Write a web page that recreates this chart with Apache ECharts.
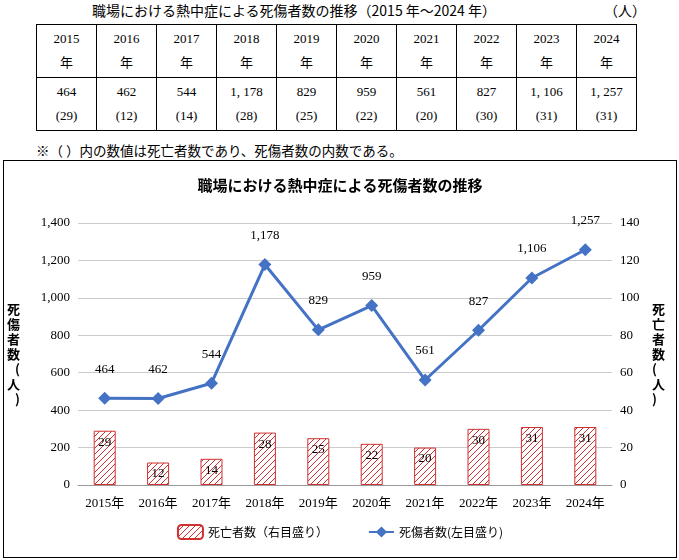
<!DOCTYPE html>
<html><head><meta charset="utf-8">
<script src="https://cdn.jsdelivr.net/npm/echarts@6/dist/echarts.min.js"></script>
<style>
body{margin:0;width:679px;height:560px;background:#fff;font-family:"Liberation Serif","Noto Sans CJK JP",serif;position:relative;overflow:hidden}
#t{position:absolute;left:0;top:4px;width:679px;font-size:14px}
#ttl{position:absolute;left:92px;top:0;font-family:"Noto Sans CJK JP";font-size:14px}
#unit{position:absolute;left:604px;top:0;font-family:"Noto Sans CJK JP";font-size:14px}
table{position:absolute;left:36px;top:24px;border-collapse:collapse;font-family:"Liberation Serif","Noto Sans CJK JP",serif;font-size:13px}
td{border:1px solid #000;width:59px;text-align:center;line-height:24px;padding:0}
#note{position:absolute;left:36px;top:140px;font-family:"Noto Sans CJK JP";font-size:13.5px}
#c{position:absolute;left:3px;top:160px;width:672px;height:396px;border:1px solid #000}
</style></head><body>
<div id="ttl">職場における熱中症による死傷者数の推移（2015 年～2024 年）</div>
<div id="unit">（人）</div>
<table id="tb"></table>
<div id="note">※（ ）内の数値は死亡者数であり、死傷者数の内数である。</div>
<div id="c"></div>
<script>
const years=['2015','2016','2017','2018','2019','2020','2021','2022','2023','2024'];
const casualties=[464,462,544,1178,829,959,561,827,1106,1257];
const deaths=[29,12,14,28,25,22,20,30,31,31];
const leftTicks=[0,200,400,600,800,1000,1200,1400];

const fmt=v=>v>=1000?Math.floor(v/1000)+', '+String(v%1000).padStart(3,'0'):String(v);
let h='<tr>'+years.map(y=>'<td style="height:52px">'+y+'<br>年</td>').join('')+'</tr>';
h+='<tr>'+casualties.map((v,i)=>'<td style="height:52px">'+fmt(v)+'<br>('+deaths[i]+')</td>').join('')+'</tr>';
document.getElementById('tb').innerHTML=h;

const cv=document.createElement('canvas');cv.width=6;cv.height=6;
const cx=cv.getContext('2d');cx.fillStyle='#fff';cx.fillRect(0,0,6,6);
cx.strokeStyle='#d03030';cx.lineWidth=1;
cx.beginPath();cx.moveTo(0,6);cx.lineTo(6,0);cx.moveTo(-1,1);cx.lineTo(1,-1);cx.moveTo(5,7);cx.lineTo(7,5);cx.stroke();

const ch=echarts.init(document.getElementById('c'));
const tf={fontFamily:'Liberation Serif, Noto Sans CJK JP',fontSize:13,color:'#000'};
ch.setOption({
 animation:false,
 title:{text:'職場における熱中症による死傷者数の推移',left:'center',top:12,textStyle:{fontFamily:'Noto Sans CJK JP',fontSize:15,fontWeight:'bold',color:'#000'}},
 grid:{left:69,right:64,top:62,bottom:72},
 legend:{bottom:12,itemGap:40,textStyle:{fontFamily:'Noto Sans CJK JP',fontSize:12,color:'#000'},
  data:[{name:'死亡者数（右目盛り）'},{name:'死傷者数(左目盛り)'}]},
 xAxis:{type:'category',data:years.map(y=>y+'年'),axisTick:{show:false},axisLine:{lineStyle:{color:'#999'}},axisLabel:{...tf,fontFamily:'Liberation Serif, Noto Sans CJK JP',margin:12}},
 yAxis:[
  {type:'value',min:0,max:1400,interval:200,axisLabel:{...tf,formatter:v=>v.toLocaleString('en-US')},splitLine:{lineStyle:{color:'#ccc'}},
   name:'死\n傷\n者\n数\n(\n人\n)',nameLocation:'middle',nameGap:58,nameRotate:0,nameTextStyle:{fontFamily:'Noto Sans CJK JP',fontSize:13,fontWeight:'bold',color:'#000',lineHeight:15}},
  {type:'value',min:0,max:140,interval:20,axisLabel:tf,splitLine:{show:false},
   name:'死\n亡\n者\n数\n(\n人\n)',nameLocation:'middle',nameGap:40,nameRotate:0,nameTextStyle:{fontFamily:'Noto Sans CJK JP',fontSize:13,fontWeight:'bold',color:'#000',lineHeight:15}}
 ],
 series:[
  {name:'死亡者数（右目盛り）',type:'bar',yAxisIndex:1,data:deaths,barWidth:22,
   itemStyle:{color:{image:cv,repeat:'repeat'},borderColor:'#d03030',borderWidth:1},
   label:{show:true,position:'insideTop',offset:[0,0],...tf}},
  {name:'死傷者数(左目盛り)',type:'line',data:casualties,symbol:'diamond',symbolSize:13,
   lineStyle:{color:'#4472c4',width:3},itemStyle:{color:'#4472c4'},
   label:{show:true,position:'top',distance:16,...tf,formatter:p=>p.value.toLocaleString('en-US')}}
 ]
});
</script></body></html>
